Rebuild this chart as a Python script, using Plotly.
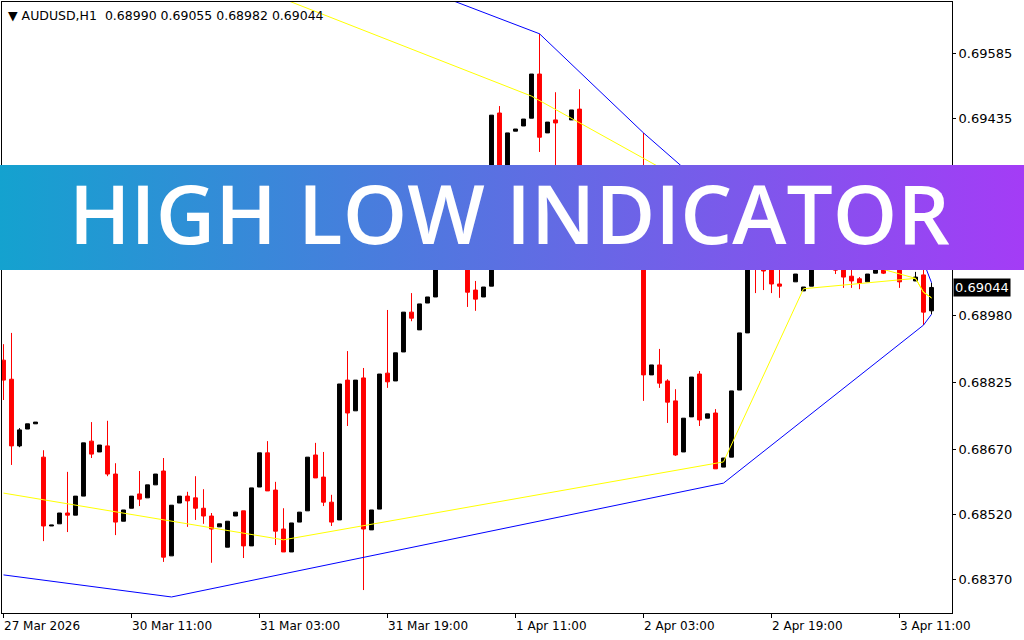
"""AUDUSD H1 candles with a high/low indicator, MT4 style, under a banner."""

import base64

import plotly.graph_objects as go

# ---- data ---------------------------------------------------------------
bar_index = list(range(117))

open_ = [
    0.68876, 0.68832, 0.68678, 0.68717, 0.68729, 0.68652, 0.68493, 0.68498, 0.68523, 0.68518,
    0.68562, 0.68689, 0.68664, 0.68678, 0.68613, 0.68504, 0.68534, 0.68567, 0.68558, 0.68588,
    0.68620, 0.68424, 0.68546, 0.68562, 0.68558, 0.68534, 0.68516, 0.68491, 0.68444, 0.68516,
    0.68528, 0.68447, 0.68583, 0.68662, 0.68576, 0.68486, 0.68433, 0.68502, 0.68528, 0.68657,
    0.68606, 0.68548, 0.68507, 0.68830, 0.68759, 0.68835, 0.68484, 0.68532, 0.68846, 0.68828,
    0.68895, 0.68987, 0.68946, 0.69008, 0.69022, 0.69103, 0.69154, 0.69130, 0.69181, 0.69038,
    0.69022, 0.69047, 0.69447, 0.69246, 0.69405, 0.69417, 0.69435, 0.69537, 0.69401, 0.69431,
    0.69304, 0.69431, 0.69456, 0.69195, 0.69246, 0.69165, 0.69223, 0.69142, 0.69195, 0.69158,
    0.69234, 0.68842, 0.68865, 0.68828, 0.68782, 0.68664, 0.68745, 0.68844, 0.68742, 0.68754,
    0.68629, 0.68652, 0.68807, 0.68939, 0.69165, 0.69112, 0.69103, 0.69052, 0.69103, 0.69057,
    0.69036, 0.69047, 0.69112, 0.69103, 0.69119, 0.69103, 0.69070, 0.69064, 0.69057, 0.69077,
    0.69103, 0.69089, 0.69107, 0.69096, 0.69059, 0.69073, 0.68990,
]
high = [
    0.68913, 0.68939, 0.68719, 0.68729, 0.68733, 0.68668, 0.68495, 0.68523, 0.68618, 0.68562,
    0.68685, 0.68733, 0.68680, 0.68736, 0.68638, 0.68530, 0.68562, 0.68620, 0.68588, 0.68613,
    0.68650, 0.68541, 0.68562, 0.68572, 0.68608, 0.68578, 0.68523, 0.68498, 0.68504, 0.68525,
    0.68528, 0.68581, 0.68662, 0.68689, 0.68595, 0.68534, 0.68500, 0.68525, 0.68652, 0.68685,
    0.68664, 0.68565, 0.68821, 0.68897, 0.68830, 0.68858, 0.68530, 0.68844, 0.68992, 0.68893,
    0.68987, 0.69031, 0.69006, 0.69022, 0.69112, 0.69172, 0.69177, 0.69195, 0.69191, 0.69059,
    0.69045, 0.69442, 0.69463, 0.69401, 0.69410, 0.69433, 0.69537, 0.69630, 0.69426, 0.69495,
    0.69320, 0.69454, 0.69502, 0.69258, 0.69269, 0.69234, 0.69246, 0.69211, 0.69223, 0.69246,
    0.69401, 0.68865, 0.68902, 0.68832, 0.68809, 0.68742, 0.68837, 0.68851, 0.68752, 0.68763,
    0.68650, 0.68805, 0.68939, 0.69191, 0.69181, 0.69130, 0.69119, 0.69103, 0.69142, 0.69075,
    0.69045, 0.69130, 0.69142, 0.69144, 0.69135, 0.69119, 0.69103, 0.69068, 0.69075, 0.69119,
    0.69119, 0.69130, 0.69126, 0.69121, 0.69080, 0.69103, 0.69055,
]
low = [
    0.68784, 0.68634, 0.68675, 0.68717, 0.68729, 0.68458, 0.68493, 0.68498, 0.68479, 0.68518,
    0.68562, 0.68650, 0.68664, 0.68608, 0.68472, 0.68504, 0.68534, 0.68539, 0.68558, 0.68588,
    0.68410, 0.68424, 0.68546, 0.68491, 0.68507, 0.68498, 0.68408, 0.68491, 0.68444, 0.68516,
    0.68419, 0.68447, 0.68583, 0.68574, 0.68449, 0.68433, 0.68433, 0.68502, 0.68528, 0.68604,
    0.68539, 0.68493, 0.68507, 0.68724, 0.68759, 0.68345, 0.68484, 0.68532, 0.68812, 0.68828,
    0.68895, 0.68966, 0.68946, 0.69008, 0.69022, 0.69093, 0.69112, 0.69119, 0.68999, 0.68990,
    0.69022, 0.69047, 0.69218, 0.69228, 0.69405, 0.69417, 0.69435, 0.69357, 0.69401, 0.69269,
    0.69211, 0.69431, 0.69188, 0.69177, 0.69142, 0.69154, 0.69119, 0.69130, 0.69135, 0.69149,
    0.68782, 0.68842, 0.68812, 0.68731, 0.68655, 0.68664, 0.68745, 0.68724, 0.68742, 0.68625,
    0.68629, 0.68652, 0.68807, 0.68939, 0.69031, 0.69038, 0.69031, 0.69020, 0.69093, 0.69057,
    0.69036, 0.69047, 0.69093, 0.69096, 0.69075, 0.69043, 0.69043, 0.69040, 0.69057, 0.69077,
    0.69075, 0.69089, 0.69043, 0.69091, 0.69059, 0.68957, 0.68982,
]
close = [
    0.68830, 0.68678, 0.68715, 0.68729, 0.68733, 0.68493, 0.68495, 0.68523, 0.68518, 0.68562,
    0.68685, 0.68659, 0.68680, 0.68613, 0.68502, 0.68530, 0.68562, 0.68555, 0.68588, 0.68613,
    0.68421, 0.68541, 0.68562, 0.68551, 0.68534, 0.68516, 0.68486, 0.68498, 0.68504, 0.68525,
    0.68447, 0.68581, 0.68662, 0.68574, 0.68481, 0.68433, 0.68500, 0.68525, 0.68652, 0.68604,
    0.68548, 0.68502, 0.68821, 0.68754, 0.68830, 0.68486, 0.68530, 0.68844, 0.68826, 0.68893,
    0.68987, 0.68973, 0.69006, 0.69022, 0.69103, 0.69158, 0.69130, 0.69181, 0.69033, 0.69017,
    0.69045, 0.69442, 0.69234, 0.69401, 0.69410, 0.69433, 0.69537, 0.69391, 0.69426, 0.69424,
    0.69246, 0.69454, 0.69211, 0.69246, 0.69165, 0.69223, 0.69142, 0.69200, 0.69165, 0.69234,
    0.68842, 0.68865, 0.68823, 0.68779, 0.68657, 0.68742, 0.68837, 0.68738, 0.68752, 0.68625,
    0.68650, 0.68805, 0.68939, 0.69165, 0.69112, 0.69082, 0.69052, 0.69047, 0.69130, 0.69075,
    0.69045, 0.69112, 0.69103, 0.69130, 0.69084, 0.69068, 0.69059, 0.69054, 0.69075, 0.69103,
    0.69077, 0.69119, 0.69057, 0.69112, 0.69068, 0.68987, 0.69044,
]

# indicator polylines: bar index of each vertex and its price
outer_high_bars = [0, 67, 80, 93, 115, 116]
outer_high = [0.70103, 0.69630, 0.69401, 0.69191, 0.69103, 0.69055]
outer_low_bars = [0, 21, 90, 115, 116]
outer_low = [0.68380, 0.68329, 0.68592, 0.68957, 0.68982]
inner_high_bars = [0, 66, 100, 114, 115, 116]
inner_high = [0.69964, 0.69486, 0.69137, 0.69065, 0.69033, 0.69020]
inner_low_bars = [0, 35, 90, 100, 114, 115, 116]
inner_low = [0.68569, 0.68461, 0.68641, 0.69041, 0.69065, 0.69033, 0.69020]

time_tick_bars = [0, 16, 32, 48, 64, 80, 96, 112]
time_tick_labels = ["27 Mar 2026", "30 Mar 11:00", "31 Mar 03:00", "31 Mar 19:00",
                    "1 Apr 11:00", "2 Apr 03:00", "2 Apr 19:00", "3 Apr 11:00"]
price_ticks = [0.69585, 0.69435, 0.69280, 0.69130, 0.68980, 0.68825, 0.68670, 0.68520, 0.68370]

symbol = "AUDUSD,H1"
last_price = close[-1]

# ---- figure -------------------------------------------------------------
W, H = 1024, 640
L, R, T, B = 2, 72, 2, 27          # plot area: x 2..952, y 2..613
plot_w, plot_h = W - L - R, H - T - B
FONT = "DejaVu Sans"

fig = go.Figure()
fig.add_trace(
    go.Candlestick(
        x=bar_index, open=open_, high=high, low=low, close=close,
        increasing=dict(line=dict(color="#000000", width=1), fillcolor="#000000"),
        decreasing=dict(line=dict(color="#ff0000", width=1), fillcolor="#ff0000"),
        whiskerwidth=0, hoverinfo="skip",
    )
)
for xs, ys, col in [
    (outer_high_bars, outer_high, "#0000ff"),
    (outer_low_bars, outer_low, "#0000ff"),
    (inner_high_bars, inner_high, "#ffff00"),
    (inner_low_bars, inner_low, "#ffff00"),
]:
    fig.add_trace(go.Scatter(x=xs, y=ys, mode="lines", line=dict(color=col, width=1),
                             hoverinfo="skip"))

annotations = [
    dict(text=f"\u25bc {symbol}\u00a0\u00a0{open_[-1]:.5f} {high[-1]:.5f} {low[-1]:.5f} {close[-1]:.5f}",
         xref="paper", yref="paper", x=4 / plot_w, y=1, xanchor="left", yanchor="top",
         yshift=-4, showarrow=False, font=dict(family=FONT, size=12.5, color="#000000")),
    dict(text=f"{last_price:.5f}", xref="paper", yref="y", x=1, y=last_price,
         xanchor="left", yanchor="middle", xshift=1, showarrow=False, bgcolor="#000000",
         borderpad=1, font=dict(family=FONT, size=13, color="#ffffff")),
]
for b, lab in zip(time_tick_bars, time_tick_labels):
    annotations.append(dict(text=lab, xref="x", yref="paper", x=b, y=0, xanchor="left",
                            yanchor="top", yshift=-4, xshift=-2, showarrow=False,
                            font=dict(family=FONT, size=12, color="#000000")))

# banner across the whole page, y 165..270 px
band_top, band_bot = 165, 270
svg = (
    '<svg xmlns="http://www.w3.org/2000/svg" width="1024" height="105" preserveAspectRatio="none">'
    '<defs><linearGradient id="g" x1="0" y1="0" x2="1" y2="0">'
    '<stop offset="0" stop-color="#14a2cf"/><stop offset="1" stop-color="#a43cf6"/>'
    '</linearGradient></defs><rect width="1024" height="105" fill="url(#g)"/></svg>'
)
banner_src = "data:image/svg+xml;base64," + base64.b64encode(svg.encode()).decode()
fig.add_layout_image(
    source=banner_src, xref="paper", yref="paper",
    x=-L / plot_w, y=(H - B - band_top) / plot_h,
    sizex=W / plot_w, sizey=(band_bot - band_top) / plot_h,
    xanchor="left", yanchor="top", sizing="stretch", layer="above",
)
annotations.append(
    dict(text="HIGH LOW INDICATOR", xref="paper", yref="paper",
         x=(509 - L) / plot_w, y=(H - B - 212) / plot_h, xanchor="center", yanchor="middle",
         showarrow=False, font=dict(family="Open Sans", size=82, color="#ffffff", weight=600))
)

fig.update_layout(
    width=W, height=H,
    margin=dict(l=L, r=R, t=T, b=B, pad=0),
    paper_bgcolor="#ffffff", plot_bgcolor="#ffffff",
    showlegend=False,
    annotations=annotations,
    xaxis=dict(
        range=[-0.1875, 118.5625], showgrid=False, zeroline=False,
        showline=True, mirror=True, linecolor="#000000", linewidth=1,
        ticks="outside", ticklen=4, tickcolor="#000000", tickvals=time_tick_bars,
        showticklabels=False, rangeslider=dict(visible=False), fixedrange=True,
    ),
    yaxis=dict(
        side="right", range=[0.682920, 0.697034], showgrid=False, zeroline=False,
        showline=True, mirror=True, linecolor="#000000", linewidth=1,
        ticks="outside", ticklen=3, tickcolor="#000000",
        tickvals=price_ticks, ticktext=[f"{v:.5f}" for v in price_ticks],
        tickfont=dict(family=FONT, size=13, color="#000000"), fixedrange=True,
    ),
)

# the page body has an 8px default margin; drop it so the chart sits at 0,0
fig.write_html("out.html", config=dict(displayModeBar=False),
               post_script="document.body.style.margin = '0';")
